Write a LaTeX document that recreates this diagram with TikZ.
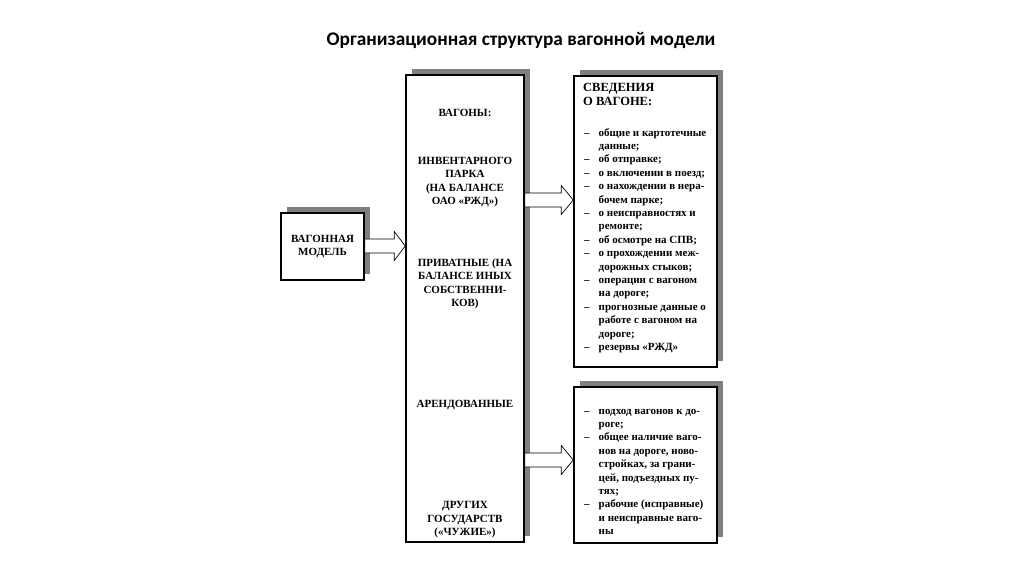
\documentclass[tikz,border=0pt]{standalone}
\usepackage{fontspec}
\setmainfont{Liberation Serif}
\newfontfamily\titlefont{Carlito}
\usetikzlibrary{shadows,calc}
\definecolor{shadowgray}{RGB}{128,128,128}
\begin{document}
\begin{tikzpicture}[x=1pt,y=-1pt,
  box/.style={draw=black, line width=1.5pt, fill=white,
    drop shadow={shadow xshift=6pt, shadow yshift=6pt, fill=shadowgray, opacity=1},
    inner sep=0pt},
  mtext/.style={font=\fontsize{11}{13.5}\selectfont\bfseries, align=center, inner sep=0pt},
  ltext/.style={font=\fontsize{11}{13.4}\selectfont\bfseries, inner sep=0pt, anchor=base west},
  blockarr/.style={draw=black, fill=white, line width=0.7pt, line join=miter}
]
\useasboundingbox (0,0) rectangle (1024,574);
\fill[white] (0,0) rectangle (1024,574);

\node[font=\titlefont\fontsize{19.3}{22}\selectfont\bfseries] (title) at (521,40)
  {Организационная структура вагонной модели};

% boxes
\node[box, minimum width=83pt, minimum height=67pt, mtext] (model) at (322.5,246.5) {ВАГОННАЯ\\МОДЕЛЬ};
\node[box, minimum width=118pt, minimum height=467pt] (wagons) at (465,308.5) {};
\node[box, minimum width=143pt, minimum height=291pt] (info1) at (645.5,221.5) {};
\node[box, minimum width=143pt, minimum height=156pt] (info2) at (645.5,465) {};

% texts in the middle box
\node[mtext] (t1) at (465,113) {ВАГОНЫ:};
\node[mtext] (t2) at (465,182) {ИНВЕНТАРНОГО\\ПАРКА\\(НА БАЛАНСЕ\\ОАО «РЖД»)};
\node[mtext] (t3) at (465,284) {ПРИВАТНЫЕ (НА\\БАЛАНСЕ ИНЫХ\\СОБСТВЕННИ-\\КОВ)};
\node[mtext] (t4) at (465,405) {АРЕНДОВАННЫЕ};
\node[mtext] (t5) at (465,520) {ДРУГИХ\\ГОСУДАРСТВ\\(«ЧУЖИЕ»)};

% right top box
\node[font=\fontsize{12.5}{14}\selectfont\bfseries, align=left, anchor=west, inner sep=0pt] (head) at (583,94)
  {СВЕДЕНИЯ\\О ВАГОНЕ:};
\node[ltext] (list1) at (584,136) {\begin{tabular}[t]{@{}l@{\hspace{9pt}}l@{}}
– & общие и картотечные\\
  & данные;\\
– & об отправке;\\
– & о включении в поезд;\\
– & о нахождении в нера-\\
  & бочем парке;\\
– & о неисправностях и\\
  & ремонте;\\
– & об осмотре на СПВ;\\
– & о прохождении меж-\\
  & дорожных стыков;\\
– & операции с вагоном\\
  & на дороге;\\
– & прогнозные данные о\\
  & работе с вагоном на\\
  & дороге;\\
– & резервы «РЖД»
\end{tabular}};

% right bottom box
\node[ltext] (list2) at (584,414) {\begin{tabular}[t]{@{}l@{\hspace{9pt}}l@{}}
– & подход вагонов к до-\\
  & роге;\\
– & общее наличие ваго-\\
  & нов на дороге, ново-\\
  & стройках, за грани-\\
  & цей, подъездных пу-\\
  & тях;\\
– & рабочие (исправные)\\
  & и неисправные ваго-\\
  & ны
\end{tabular}};

% block arrows
\coordinate (lv0) at (0,246);
\coordinate (lv1) at (0,200);
\coordinate (lv2) at (0,460);

\draw[blockarr] ($(model.east|-lv0)+(0,-7)$) -- ($(wagons.west|-lv0)+(-11,-7)$)
  -- ($(wagons.west|-lv0)+(-11,-14.5)$) -- (wagons.west|-lv0)
  -- ($(wagons.west|-lv0)+(-11,14.5)$) -- ($(wagons.west|-lv0)+(-11,7)$)
  -- ($(model.east|-lv0)+(0,7)$) -- cycle;

\draw[blockarr] ($(wagons.east|-lv1)+(0,-7)$) -- ($(info1.west|-lv1)+(-12,-7)$)
  -- ($(info1.west|-lv1)+(-12,-14.5)$) -- (info1.west|-lv1)
  -- ($(info1.west|-lv1)+(-12,14.5)$) -- ($(info1.west|-lv1)+(-12,7)$)
  -- ($(wagons.east|-lv1)+(0,7)$) -- cycle;

\draw[blockarr] ($(wagons.east|-lv2)+(0,-7)$) -- ($(info2.west|-lv2)+(-12,-7)$)
  -- ($(info2.west|-lv2)+(-12,-14.5)$) -- (info2.west|-lv2)
  -- ($(info2.west|-lv2)+(-12,14.5)$) -- ($(info2.west|-lv2)+(-12,7)$)
  -- ($(wagons.east|-lv2)+(0,7)$) -- cycle;
\end{tikzpicture}
\end{document}
